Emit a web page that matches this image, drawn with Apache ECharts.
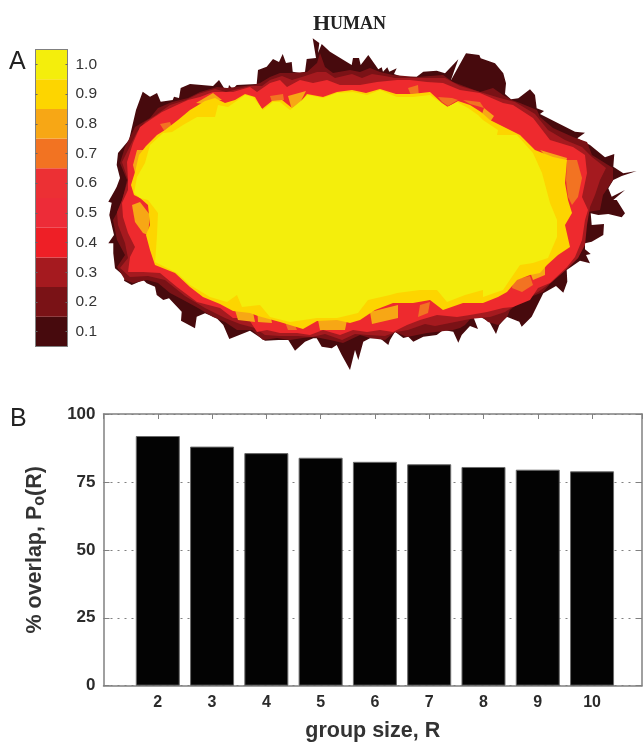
<!DOCTYPE html>
<html>
<head>
<meta charset="utf-8">
<style>
  html, body { margin: 0; padding: 0; background: #fff; }
  #chart { width: 643px; height: 743px; filter: blur(0.5px); }
</style>
<script src="https://cdn.jsdelivr.net/npm/echarts@6/dist/echarts.min.js"></script>
</head>
<body>
<div id="chart"></div>
<script>
// panel B
const groupSizes = [2, 3, 4, 5, 6, 7, 8, 9, 10];
const overlapPercent = [91.9, 88, 85.6, 83.9, 82.4, 81.5, 80.5, 79.5, 78.9];

// panel A colour scale
const scaleLabels = ["0.1", "0.2", "0.3", "0.4", "0.5", "0.6", "0.7", "0.8", "0.9", "1.0"];
const scaleColors = ["#470a0d", "#7a1216", "#a51a1f", "#ee1f26", "#ed2c38", "#ec3034", "#f27322", "#f7a715", "#fdd500", "#f4ee0c"];

// panel A contours, outermost first
const contour01 = [[116.7,186.7],[120,178],[116.7,165],[118,153],[129,140],[136,110],[142.7,91.7],[150,96.7],[157,93],[160.7,101.7],[172.7,100],[174,96.7],[179,98],[180.7,88],[190,84],[213,86],[219,80],[224,88],[228,90],[229,85],[232.7,89],[236.7,85],[256.7,84],[258,70],[266.7,66.7],[273,59],[279,62],[282.7,54],[286,63],[291.7,62],[292.7,71.7],[300,73],[305,71.7],[306.7,59],[316,58],[312.7,38.3],[319.3,43],[318,53],[321.7,44],[330,51.7],[351.7,65],[353,58],[359,58],[360.7,65],[368.3,55],[378.3,69.3],[381.7,67.3],[383,71.7],[387.3,67.3],[389.3,71.7],[396.7,68.3],[394,74],[403.3,77.3],[416.7,76.7],[423.3,71.7],[436.7,70.7],[445,73.3],[458.3,59.3],[450.7,80.7],[464,56.7],[466,53.3],[479.3,55],[480.7,58.3],[495,63.3],[503.3,73.3],[506,83.3],[505,94],[511,99.3],[518.3,98.3],[530,89.3],[535,95],[536.7,108.3],[544,111],[540,114],[575,131.7],[585,132.7],[577.3,138.3],[590,145],[605,157.3],[614.3,154],[613.3,166.7],[623.3,173.3],[636.7,171],[621.7,176],[613.3,180],[608.3,188.3],[611.7,196.7],[625,190],[613.3,200],[616.7,200],[625,213.3],[621.7,217.3],[608.3,214],[598.3,215],[590.7,213.3],[591.7,225],[604,224],[603.3,235],[591.7,241.7],[585,243.3],[585,249.3],[590.7,254],[586,255],[590,263.3],[580,260.7],[566.7,270],[567.3,281.7],[563.3,292.7],[556,286],[543.3,293.3],[531.7,316.7],[521.7,326.7],[519.3,321.7],[506.7,316.7],[499.3,325],[496,334],[489.3,321.7],[480,316.7],[473.3,316.7],[478,329],[470,326],[461.7,335],[458.3,342.7],[453.3,331.7],[443.3,330],[436.7,335],[423.3,336.7],[413.3,341.7],[408.3,336.7],[403.3,338],[395,331.7],[390,340],[388.3,345],[380,338.3],[370,338.3],[363.3,341.7],[358.3,360],[355,350],[350,370],[341.7,355],[336.7,345],[331.7,348.3],[321.7,346.7],[316.7,338.3],[313.3,338.3],[305,341.7],[295,350.7],[288.3,340],[278.3,340],[265,340.7],[250,330.7],[229.3,339],[223.3,325],[216.7,318.3],[205,313.3],[196.7,316.7],[195,328.3],[181,320.7],[181.7,311.7],[169,298.3],[163.3,300],[156.7,295],[155,286.7],[146.7,283.3],[143.3,280],[131.7,285],[124,280.7],[125,276.7],[115,268.3],[113.3,253.3],[113.3,243.3],[108.3,243.3],[114,235],[109.3,215],[111.7,202.7],[108.3,201.7],[115,190]];
const contour02 = [[123,197],[127,180],[120,163],[125,147],[135,127],[150,118],[158,108],[172,102],[188,98],[200,92],[217,87],[227,88],[253,85],[260,83],[270,77],[280,73],[290,73],[307,72],[317,63],[320,53],[325,67],[333,73],[350,70],[360,72],[370,68],[380,72],[393,75],[417,77],[443,75],[453,82],[480,92],[493,88],[503,95],[512,100],[520,103],[537,110],[540,117],[553,128],[573,137],[587,142],[592,155],[613,168],[613,180],[603,195],[600,210],[588,212],[585,230],[583,247],[578,258],[567,268],[555,278],[543,292],[523,300],[510,310],[507,317],[498,325],[488,322],[480,315],[472,317],[465,325],[460,328],[453,330],[427,333],[407,337],[395,332],[385,340],[370,338],[360,335],[343,343],[330,340],[320,338],[313,337],[303,338],[290,340],[277,338],[263,340],[252,330],[237,330],[225,322],[213,317],[198,308],[187,302],[170,293],[158,283],[147,280],[133,283],[125,280],[117,267],[125,255],[117,240],[113,220],[120,207]];
const contour03 = [[122,200],[128,180],[122,162],[129,148],[137,132],[145,122],[156,115],[170,105],[186,100],[198,94],[215,89],[226,92],[250,86],[262,86],[270,80],[282,76],[292,80],[305,76],[317,72],[326,72],[335,78],[352,74],[362,78],[372,74],[385,76],[395,78],[420,78],[445,78],[460,86],[480,92],[500,98],[515,102],[535,114],[548,130],[565,140],[582,147],[592,157],[606,168],[600,180],[595,195],[590,207],[587,225],[585,245],[578,258],[568,268],[552,282],[538,292],[520,302],[505,312],[490,317],[470,319],[455,322],[435,326],[425,324],[408,330],[396,332],[385,336],[368,335],[355,334],[342,340],[325,334],[312,337],[298,336],[280,336],[265,335],[255,328],[240,324],[225,318],[205,308],[185,296],[165,280],[148,276],[130,277],[120,268],[128,258],[125,243],[118,225],[117,212]];
const contour04 = [[128,190],[128,180],[127,162],[133,143],[140,127],[150,120],[162,112],[177,105],[188,100],[200,97],[213,92],[233,92],[250,87],[257,92],[270,83],[280,80],[287,87],[300,80],[313,83],[327,80],[340,85],[360,85],[377,82],[397,80],[410,80],[427,82],[443,83],[460,90],[480,93],[503,103],[513,105],[533,118],[550,140],[573,147],[585,155],[587,173],[582,197],[588,210],[585,220],[582,240],[575,257],[567,267],[550,283],[538,288],[530,300],[513,307],[503,308],[487,312],[470,315],[457,317],[437,315],[420,320],[407,325],[393,332],[380,330],[367,332],[353,330],[340,335],[323,330],[310,335],[297,333],[280,333],[267,330],[257,332],[248,318],[233,318],[220,308],[197,302],[177,287],[160,273],[143,272],[128,272],[130,257],[135,247],[128,233],[123,217],[122,203]];
const contour09 = [[134,195],[131,185],[135,172],[139,155],[146,146],[157,135],[165,130],[178,120],[190,110],[205,101],[215,98],[225,103],[235,100],[245,94],[255,97],[262,109],[272,101],[282,100],[292,108],[298,105],[307,94],[323,97],[337,92],[352,90],[366,93],[380,89],[396,94],[412,94],[430,92],[442,103],[448,107],[458,101],[470,105],[481,112],[490,120],[500,125],[510,130],[520,135],[535,150],[553,157],[567,160],[565,183],[568,200],[572,213],[565,225],[570,247],[558,255],[547,265],[540,273],[530,275],[517,280],[507,292],[498,297],[483,303],[463,303],[443,310],[430,300],[413,303],[393,303],[375,310],[360,320],[350,323],[337,320],[317,321],[303,329],[280,322],[258,316],[250,313],[233,311],[220,304],[203,297],[190,287],[175,273],[155,265],[150,250],[146,235],[150,225],[148,205],[140,198]];
const contour10 = [[134,193],[137,177],[145,163],[150,145],[163,133],[172,132],[183,125],[197,117],[215,117],[218,105],[228,107],[245,95],[253,97],[263,110],[273,102],[280,102],[290,110],[308,95],[323,98],[337,93],[353,92],[367,95],[380,90],[397,97],[413,97],[430,95],[447,107],[457,102],[468,108],[478,115],[483,120],[498,130],[497,135],[517,135],[533,153],[542,173],[550,203],[557,220],[557,237],[548,258],[533,263],[520,265],[503,290],[483,297],[483,290],[465,295],[447,302],[437,290],[420,290],[397,293],[390,295],[368,300],[358,313],[337,318],[317,318],[290,322],[270,317],[260,305],[242,307],[237,295],[227,302],[210,297],[190,285],[177,273],[155,262],[156,250],[157,235],[158,213],[148,200],[140,198]];

// the 0.7 and 0.8 levels only show as separate patches
const patches07 = [
  [[567,160],[577,160],[582,178],[578,197],[572,205],[568,197],[566,180]],
  [[438,97],[452,98],[458,100],[448,106],[442,102]],
  [[463,100],[480,102],[484,108],[470,104]],
  [[408,88],[418,85],[419,97],[412,98]],
  [[420,305],[430,302],[428,313],[418,317]],
  [[513,280],[530,276],[533,285],[522,292],[512,288]],
  [[285,322],[293,320],[297,330],[288,330]],
  [[160,124],[170,122],[172,128],[165,132]],
  [[270,96],[283,94],[284,100],[272,102]]
];
const patches08 = [
  [[132,205],[140,202],[150,215],[148,235],[143,233],[135,222]],
  [[137,150],[145,150],[143,173],[135,173],[133,165]],
  [[196,103],[213,93],[222,100],[215,100],[205,104]],
  [[288,96],[306,91],[300,103],[292,110]],
  [[540,150],[567,158],[566,162],[548,158]],
  [[484,108],[494,116],[490,122],[482,114]],
  [[370,312],[398,305],[398,318],[372,324]],
  [[318,320],[347,320],[345,330],[320,330]],
  [[235,310],[253,312],[255,322],[238,320]],
  [[257,305],[270,312],[272,323],[258,322]],
  [[530,272],[545,265],[545,275],[533,280]]
];

const lineColor = "#808080";
const sansFont = "'Liberation Sans', Arial, sans-serif";

// one custom series per polygon, drawn through the hidden x/y axes of the map grid
function polygonSeries(outline, color) {
  return {
    type: "custom",
    xAxisIndex: 4,
    yAxisIndex: 4,
    silent: true,
    clip: false,
    data: [0],
    renderItem: function (params, api) {
      return {
        type: "polygon",
        shape: { points: outline.map(function (p) { return api.coord(p); }) },
        style: { fill: color }
      };
    }
  };
}

const mapSeries = [
  polygonSeries(contour01, "#470a0d"),
  polygonSeries(contour02, "#7a1216"),
  polygonSeries(contour03, "#a51a1f"),
  polygonSeries(contour04, "#ee2a2e")
].concat(
  patches07.map(function (p) { return polygonSeries(p, "#f27322"); }),
  patches08.map(function (p) { return polygonSeries(p, "#f7a715"); }),
  [polygonSeries(contour09, "#fdd500"), polygonSeries(contour10, "#f4ee0c")]
);

const chart = echarts.init(document.getElementById("chart"));
chart.setOption({
  animation: false,
  backgroundColor: "#fff",
  title: [
    { text: "{big|H}{small|UMAN}", left: 313, top: 13, padding: 0, textStyle: { rich: {
      big: { fontFamily: "'Liberation Serif', serif", fontWeight: "bold", fontSize: 22, color: "#222" },
      small: { fontFamily: "'Liberation Serif', serif", fontWeight: "bold", fontSize: 18, color: "#222" }
    } } },
    { text: "A", left: 9, top: 50, padding: 0, textStyle: { fontFamily: sansFont, fontWeight: "normal", fontSize: 25, color: "#222" } },
    { text: "B", left: 10, top: 407, padding: 0, textStyle: { fontFamily: sansFont, fontWeight: "normal", fontSize: 25, color: "#222" } }
  ],
  grid: [
    { left: 103.5, top: 414, width: 538.5, height: 271.7 },
    { left: 35.5, top: 49.5, width: 32, height: 297 },
    { left: 100, top: 30, width: 540, height: 345 }
  ],
  xAxis: [
    {
      gridIndex: 0, type: "value", min: 1, max: 10.92, interval: 1,
      axisLine: { show: true, onZero: false, lineStyle: { color: lineColor, width: 1.5 } },
      axisTick: { show: false },
      splitLine: { show: false },
      axisLabel: { margin: 9, showMinLabel: false, showMaxLabel: false, fontFamily: sansFont, fontWeight: "bold", fontSize: 16, color: "#2b2b2b" },
      name: "group size, R", nameLocation: "middle", nameGap: 34,
      nameTextStyle: { fontFamily: sansFont, fontWeight: "bold", fontSize: 21.5, color: "#333" }
    },
    {
      gridIndex: 0, type: "value", position: "top", min: 1, max: 10.92, interval: 1,
      axisLine: { show: true, onZero: false, lineStyle: { color: lineColor, width: 1.5 } },
      axisTick: { show: true, inside: true, length: 5, lineStyle: { color: lineColor } },
      axisLabel: { show: false }, splitLine: { show: false }
    },
    {
      gridIndex: 1, type: "value", min: 0, max: 1, z: 5,
      axisLine: { show: true, onZero: false, lineStyle: { color: lineColor, width: 1 } },
      axisTick: { show: false }, axisLabel: { show: false }, splitLine: { show: false }
    },
    {
      gridIndex: 1, type: "value", position: "top", min: 0, max: 1, z: 5,
      axisLine: { show: true, onZero: false, lineStyle: { color: lineColor, width: 1 } },
      axisTick: { show: false }, axisLabel: { show: false }, splitLine: { show: false }
    },
    { gridIndex: 2, type: "value", min: 100, max: 640, show: false }
  ],
  yAxis: [
    {
      gridIndex: 0, type: "value", min: 0, max: 100, interval: 25,
      axisLine: { show: true, onZero: false, lineStyle: { color: lineColor, width: 1.5 } },
      axisTick: { show: true, inside: true, length: 6, lineStyle: { color: lineColor } },
      splitLine: { show: true, lineStyle: { color: "#808080", type: [2, 5], width: 1 } },
      axisLabel: { margin: 8, fontFamily: sansFont, fontWeight: "bold", fontSize: 17, color: "#2b2b2b" },
      name: "{t|% overlap, P}{s|o}{t|(R)}", nameLocation: "middle", nameGap: 56, nameRotate: 90,
      nameTextStyle: { rich: {
        t: { fontFamily: sansFont, fontWeight: "bold", fontSize: 21.5, color: "#333" },
        s: { fontFamily: sansFont, fontWeight: "bold", fontSize: 16, color: "#333", padding: [9, 0, 0, 0] }
      } }
    },
    {
      gridIndex: 0, type: "value", position: "right", min: 0, max: 100, interval: 25,
      axisLine: { show: true, onZero: false, lineStyle: { color: lineColor, width: 1.5 } },
      axisTick: { show: true, inside: true, length: 6, lineStyle: { color: lineColor } },
      axisLabel: { show: false }, splitLine: { show: false }
    },
    {
      gridIndex: 1, type: "category", position: "right", data: scaleLabels, z: 5,
      axisLine: { show: true, onZero: false, lineStyle: { color: lineColor, width: 1 } },
      axisTick: { show: true, inside: true, alignWithLabel: true, length: 2, lineStyle: { color: "#666" } },
      axisLabel: { margin: 8, fontFamily: sansFont, fontSize: 15.5, color: "#333" }
    },
    {
      gridIndex: 1, type: "category", position: "left", data: scaleLabels, z: 5,
      axisLine: { show: true, onZero: false, lineStyle: { color: lineColor, width: 1 } },
      axisTick: { show: true, inside: true, alignWithLabel: true, length: 2, lineStyle: { color: "#666" } },
      axisLabel: { show: false }
    },
    { gridIndex: 2, type: "value", min: 30, max: 375, inverse: true, show: false }
  ],
  series: [
    {
      type: "bar",
      xAxisIndex: 0,
      yAxisIndex: 0,
      barWidth: 44,
      itemStyle: { color: "#030303", borderColor: "#6a6a6a", borderWidth: 1 },
      data: groupSizes.map(function (r, i) { return [r, overlapPercent[i]]; })
    },
    {
      type: "bar",
      xAxisIndex: 2,
      yAxisIndex: 2,
      barCategoryGap: "0%",
      data: scaleColors.map(function (c) { return { value: 1, itemStyle: { color: c } }; })
    }
  ].concat(mapSeries)
});
</script>
</body>
</html>
